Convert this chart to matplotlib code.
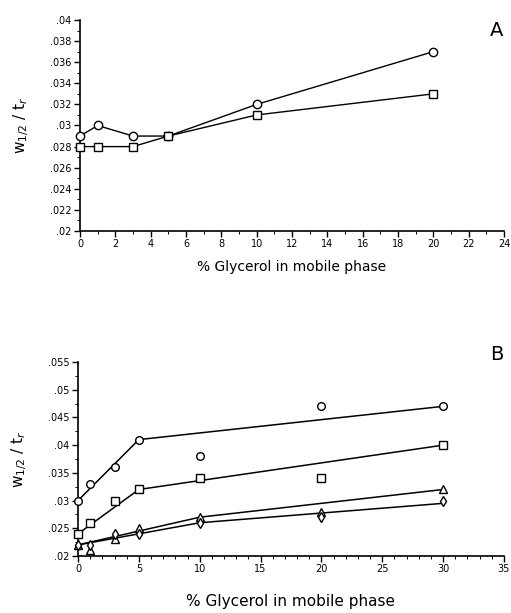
import matplotlib
matplotlib.use('Agg')
import matplotlib.pyplot as plt
from matplotlib.ticker import FuncFormatter, MultipleLocator

# ---- panel A data ----
glicerol_a = [0, 1, 3, 5, 10, 20]
circulos_a = [0.029, 0.030, 0.029, 0.029, 0.032, 0.037]
quadrados_a = [0.028, 0.028, 0.028, 0.029, 0.031, 0.033]

# ---- panel B data ----
glicerol_b = [0, 1, 3, 5, 10, 20, 30]
circulos_b = [0.030, 0.033, 0.036, 0.041, 0.038, 0.047, 0.047]
quadrados_b = [0.024, 0.026, 0.030, 0.032, 0.034, 0.034, 0.040]
triangulos_b = [0.022, 0.021, 0.023, 0.025, 0.027, 0.028, 0.032]
losangos_b = [0.022, 0.022, 0.024, 0.024, 0.026, 0.027, 0.030]

# fitted segments (panel B)
ajuste_circ_x = [0, 5, 30]
ajuste_circ_y = [0.030, 0.041, 0.047]
ajuste_quad_x = [0, 5, 30]
ajuste_quad_y = [0.024, 0.032, 0.040]
ajuste_tri_x = [0, 10, 30]
ajuste_tri_y = [0.022, 0.027, 0.032]
ajuste_los_x = [0, 10, 30]
ajuste_los_y = [0.022, 0.026, 0.0295]

plt.rcParams['font.family'] = 'DejaVu Sans'

W, H = 511, 613
fig = plt.figure(figsize=(W / 100, H / 100), dpi=100)


def caixa(l, t, r, b):
    return [l / W, 1 - b / H, (r - l) / W, (b - t) / H]


def sem_zero(v, pos):
    s = ('%.3f' % v).rstrip('0')
    if s.endswith('.'):
        s = s + '0'
    return s.lstrip('0') if v > 0 else '0'


def estilo(ax):
    for lado in ['top', 'right']:
        ax.spines[lado].set_visible(False)
    for lado in ['left', 'bottom']:
        ax.spines[lado].set_linewidth(1.2)
    ax.tick_params(axis='both', which='major', length=4, width=1, labelsize=7, pad=2)
    ax.tick_params(axis='both', which='minor', length=2, width=0.7)
    ax.yaxis.set_major_formatter(FuncFormatter(sem_zero))


mk = dict(markerfacecolor='white', markeredgecolor='black', markeredgewidth=1,
          color='black', linewidth=1, clip_on=False, zorder=3)

# ---------------- A ----------------
ax1 = fig.add_axes(caixa(80, 20, 504, 231))
ax1.plot(glicerol_a, circulos_a, marker='o', markersize=6, **mk)
ax1.plot(glicerol_a, quadrados_a, marker='s', markersize=6, **mk)
ax1.set_xlim(0, 24)
ax1.set_ylim(0.02, 0.04)
ax1.xaxis.set_major_locator(MultipleLocator(2))
ax1.xaxis.set_minor_locator(MultipleLocator(1))
ax1.yaxis.set_major_locator(MultipleLocator(0.002))
ax1.yaxis.set_minor_locator(MultipleLocator(0.001))
estilo(ax1)
ax1.set_xlabel('% Glycerol in mobile phase', fontsize=10, labelpad=8)
ax1.set_ylabel(r'w$_{1/2}$ / t$_r$', fontsize=11, labelpad=14)
fig.text(497 / W, 1 - 30 / H, 'A', fontsize=14, ha='center', va='center')

# ---------------- B ----------------
ax2 = fig.add_axes(caixa(78, 362, 504, 556))
ax2.plot(ajuste_circ_x, ajuste_circ_y, color='black', linewidth=1.1)
ax2.plot(ajuste_quad_x, ajuste_quad_y, color='black', linewidth=1.1)
ax2.plot(ajuste_tri_x, ajuste_tri_y, color='black', linewidth=1.1)
ax2.plot(ajuste_los_x, ajuste_los_y, color='black', linewidth=1.1)
pts = dict(linestyle='none', markerfacecolor='white', markeredgecolor='black',
           markeredgewidth=1, clip_on=False, zorder=3)
ax2.plot(glicerol_b, circulos_b, marker='o', markersize=5.5, **pts)
ax2.plot(glicerol_b, quadrados_b, marker='s', markersize=5.5, **pts)
ax2.plot(glicerol_b, triangulos_b, marker='^', markersize=5.5, **pts)
ax2.plot(glicerol_b, losangos_b, marker='d', markersize=5.5, **pts)
ax2.set_xlim(0, 35)
ax2.set_ylim(0.02, 0.055)
ax2.xaxis.set_major_locator(MultipleLocator(5))
ax2.xaxis.set_minor_locator(MultipleLocator(1))
ax2.yaxis.set_major_locator(MultipleLocator(0.005))
ax2.yaxis.set_minor_locator(MultipleLocator(0.0025))
estilo(ax2)
ax2.set_xlabel('% Glycerol in mobile phase', fontsize=11, labelpad=14)
ax2.set_ylabel(r'w$_{1/2}$ / t$_r$', fontsize=11, labelpad=14)
fig.text(497 / W, 1 - 355 / H, 'B', fontsize=14, ha='center', va='center')

plt.savefig('out.png', dpi=100)
